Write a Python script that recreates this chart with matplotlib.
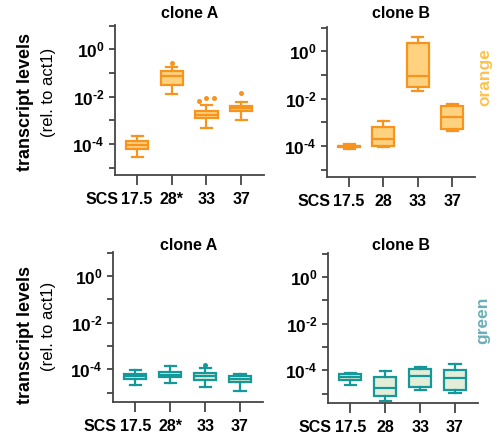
import numpy as np
import matplotlib
matplotlib.use("Agg")
import matplotlib.pyplot as plt
from matplotlib.ticker import FixedLocator, FixedFormatter, NullFormatter

plt.rcParams["font.family"] = ["Liberation Sans", "DejaVu Sans"]
plt.rcParams["mathtext.fontset"] = "custom"
plt.rcParams["mathtext.rm"] = "Liberation Sans:bold"
plt.rcParams["mathtext.bf"] = "Liberation Sans:bold"
plt.rcParams["mathtext.it"] = "Liberation Sans:italic"

# ---- data -----------------------------------------------------------------
stages_a = ["17.5", "28*", "33", "37"]
stages_b = ["17.5", "28", "33", "37"]

# orange reporter, clone A
orange_a_whislo = [2.95e-5, 1.35e-2, 4.7e-4, 1.05e-3]
orange_a_q1 = [6.0e-5, 3.3e-2, 1.26e-3, 2.63e-3]
orange_a_med = [8.9e-5, 7.8e-2, 1.74e-3, 3.3e-3]
orange_a_q3 = [1.35e-4, 0.12, 2.57e-3, 4.17e-3]
orange_a_whishi = [2.24e-4, 0.186, 4.4e-3, 6.0e-3]
orange_a_fliers = [[], [0.275], [6.8e-3, 9.3e-3, 8.9e-3], [1.45e-2]]

# orange reporter, clone B
orange_b_whislo = [7.8e-5, 9.1e-5, 2.2e-2, 4.5e-4]
orange_b_q1 = [8.9e-5, 1.05e-4, 3.1e-2, 5.5e-4]
orange_b_med = [9.8e-5, 1.95e-4, 8.9e-2, 1.7e-3]
orange_b_q3 = [1.05e-4, 6.2e-4, 2.34, 4.9e-3]
orange_b_whishi = [1.23e-4, 1.15e-3, 3.9, 6.0e-3]
orange_b_fliers = [[], [], [], []]

# green reporter, clone A
green_a_whislo = [2.14e-5, 2.5e-5, 1.8e-5, 1.17e-5]
green_a_q1 = [3.9e-5, 4.6e-5, 3.5e-5, 2.9e-5]
green_a_med = [5.2e-5, 5.9e-5, 5.0e-5, 4.0e-5]
green_a_q3 = [6.2e-5, 7.8e-5, 7.1e-5, 5.2e-5]
green_a_whishi = [9.1e-5, 1.35e-4, 1.1e-4, 6.6e-5]
green_a_fliers = [[], [], [1.55e-4], []]

# green reporter, clone B
green_b_whislo = [2.3e-5, 4.9e-6, 1.45e-5, 1.05e-5]
green_b_q1 = [4.0e-5, 8.3e-6, 1.86e-5, 1.38e-5]
green_b_med = [5.0e-5, 1.7e-5, 5.9e-5, 4.6e-5]
green_b_q3 = [6.8e-5, 5.4e-5, 1.15e-4, 1.05e-4]
green_b_whishi = [7.4e-5, 9.3e-5, 1.4e-4, 1.8e-4]
green_b_fliers = [[], [], [], []]

ytick_values = [1.0, 1e-2, 1e-4]
ytick_labels = [r"$10^{0}$", r"$10^{\text{-}2}$", r"$10^{\text{-}4}$"]

# ---- styling ----------------------------------------------------------------
ORANGE_EDGE = "#F7941D"
ORANGE_FACE = "#FFD27F"
GREEN_EDGE = "#14989A"
GREEN_FACE = "#E3EED9"
SPINE = "#454545"
XTICK_LEN, XTICK_PAD = 7, 5
# horizontal spread of outlier dots (x offset in box units)
flier_spread = {3: [-0.22, 0.0, 0.22]}

fig = plt.figure(figsize=(5.01, 4.37), dpi=100)


def draw_panel(rect, labels, whislo, q1, med, q3, whishi, fliers,
               edge, face, ylim):
    ax = fig.add_axes(rect)
    ax.set_yscale("log")
    stats = [dict(whislo=a, q1=b, med=c, q3=d, whishi=e, fliers=[])
             for a, b, c, d, e in zip(whislo, q1, med, q3, whishi)]
    pos = np.arange(1, len(labels) + 1)
    lw = 1.6
    ax.bxp(stats, positions=pos, widths=0.64, patch_artist=True,
           showfliers=False,
           boxprops=dict(facecolor=face, edgecolor=edge, linewidth=lw),
           medianprops=dict(color=edge, linewidth=lw),
           whiskerprops=dict(color=edge, linewidth=lw),
           capprops=dict(color=edge, linewidth=lw))
    for p, fl in zip(pos, fliers):
        if not fl:
            continue
        offs = flier_spread.get(p, [0.0] * len(fl)) if len(fl) > 1 else [0.0]
        ax.plot(p + np.array(offs), fl, "o", color=edge, ms=3.6, mec="none",
                zorder=3)

    ax.set_xlim(0.36, 4.66)
    ax.set_ylim(*ylim)
    ax.set_xticks(pos)
    ax.set_xticklabels(labels, fontsize=11.5, fontweight="bold")
    ax.yaxis.set_major_locator(FixedLocator(ytick_values))
    ax.yaxis.set_major_formatter(FixedFormatter(ytick_labels))
    ax.yaxis.set_minor_locator(FixedLocator([10.0, 0.1, 1e-3, 1e-5]))
    ax.yaxis.set_minor_formatter(NullFormatter())
    for s in ("top", "right"):
        ax.spines[s].set_visible(False)
    for s in ("left", "bottom"):
        ax.spines[s].set_color(SPINE)
        ax.spines[s].set_linewidth(1.3)
    ax.tick_params(axis="y", which="both", length=4.5, width=1.3,
                   color=SPINE, labelsize=12.5, pad=3)
    ax.tick_params(axis="x", length=XTICK_LEN, width=1.3, color=SPINE,
                   pad=XTICK_PAD)
    ax.annotate("SCS", xy=(0, 0), xycoords="axes fraction",
                xytext=(2.2, -(XTICK_LEN + XTICK_PAD)), textcoords="offset points",
                ha="right", va="top", fontsize=11.5, fontweight="bold")
    return ax


W, H = 501, 437


def rect(x0, y0, x1, y1):
    return [x0 / W, 1 - y1 / H, (x1 - x0) / W, (y1 - y0) / H]


top_ylim = (10 ** -5.3, 10 ** 1.03)
bot_ylim = (10 ** -5.4, 10 ** 1.03)

draw_panel(rect(115, 25, 264, 175), stages_a, orange_a_whislo, orange_a_q1,
           orange_a_med, orange_a_q3, orange_a_whishi, orange_a_fliers,
           ORANGE_EDGE, ORANGE_FACE, top_ylim)
draw_panel(rect(327, 27, 475, 177), stages_b, orange_b_whislo, orange_b_q1,
           orange_b_med, orange_b_q3, orange_b_whishi, orange_b_fliers,
           ORANGE_EDGE, ORANGE_FACE, top_ylim)
draw_panel(rect(113, 252, 263, 402), stages_a, green_a_whislo, green_a_q1,
           green_a_med, green_a_q3, green_a_whishi, green_a_fliers,
           GREEN_EDGE, GREEN_FACE, bot_ylim)
draw_panel(rect(328, 253, 478, 403), stages_b, green_b_whislo, green_b_q1,
           green_b_med, green_b_q3, green_b_whishi, green_b_fliers,
           GREEN_EDGE, GREEN_FACE, bot_ylim)

# panel titles
for x, y, t in [(190, 13, "clone A"), (401, 13, "clone B"),
                (189, 246, "clone A"), (401, 245, "clone B")]:
    fig.text(x / W, 1 - y / H, t, ha="center", va="center",
             fontsize=11.5, fontweight="bold")

# y-axis labels
for yb, yr in [(102, 92), (335, 326)]:
    fig.text(25 / W, 1 - yb / H, "transcript levels", rotation=90,
             ha="center", va="center", fontsize=13, fontweight="bold")
    fig.text(48 / W, 1 - yr / H, "(rel. to act1)", rotation=90,
             ha="center", va="center", fontsize=12)

# reporter labels
fig.text(485 / W, 1 - 77 / H, "orange", rotation=90, ha="center", va="center",
         fontsize=12.5, fontweight="bold", color="#FFC24C")
fig.text(483 / W, 1 - 320 / H, "green", rotation=90, ha="center", va="center",
         fontsize=12.5, fontweight="bold", color="#6AB0B8")

fig.savefig("out.png", dpi=100)
